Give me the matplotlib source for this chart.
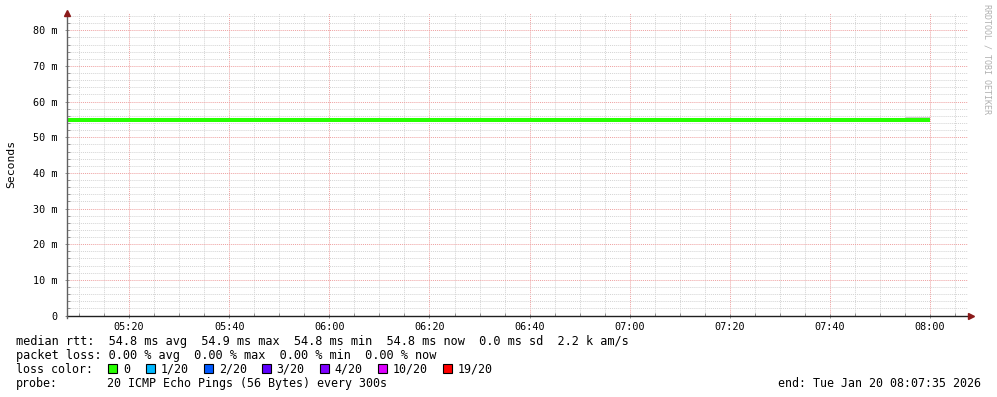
import numpy as np
import matplotlib
matplotlib.use("Agg")
import matplotlib.pyplot as plt
import matplotlib.dates as mdates
from matplotlib.patches import Rectangle
from matplotlib.ticker import MultipleLocator, FuncFormatter

W, H = 997, 397

# 5 minute steps, median rtt (ms) and top of the smoke (ms)
step_start = np.arange(np.datetime64("2026-01-20T05:05"), np.datetime64("2026-01-20T08:05"),
                       np.timedelta64(5, "m"))
median_ms = [54.8, 54.8, 54.8, 54.8, 54.8, 54.8, 54.8, 54.8, 54.8, 54.8, 54.8, 54.9,
             54.8, 54.8, 54.8, 54.8, 54.8, 54.8, 54.8, 54.8, 54.8, 54.8, 54.8, 54.8,
             54.8, 54.8, 54.9, 54.8, 54.8, 54.8, 54.8, 54.9, 54.8, 54.9, 54.8]
smoke_top_ms = [54.8] * 34 + [55.6]

x_start = np.datetime64("2026-01-20T05:07:35")
x_end = np.datetime64("2026-01-20T08:07:35")

stats_lines = [
    "median rtt:  54.8 ms avg  54.9 ms max  54.8 ms min  54.8 ms now  0.0 ms sd  2.2 k am/s",
    "packet loss: 0.00 % avg  0.00 % max  0.00 % min  0.00 % now",
]
loss_labels = ["0", "1/20", "2/20", "3/20", "4/20", "10/20", "19/20"]
loss_colors = ["#26ff00", "#00b8ff", "#0059ff", "#5e00ff", "#7e00ff", "#dd00ff", "#ff0000"]
probe_label = "probe:"
probe_text = "20 ICMP Echo Pings (56 Bytes) every 300s"
end_text = "end: Tue Jan 20 08:07:35 2026"

MONO = "DejaVu Sans Mono"
FS = 8.55
FS2 = 8.4


def px(x, y):
    return x / W, 1 - y / H


fig = plt.figure(figsize=(W / 100, H / 100), dpi=100, facecolor="white")
left, right, top, bottom = 67, 968, 12.5, 315.5
ax = fig.add_axes([left / W, 1 - bottom / H, (right - left) / W, (bottom - top) / H])

t = step_start.astype("datetime64[s]").astype(object)
med = np.array(median_ms + [median_ms[-1]])
smoke = np.array(smoke_top_ms + [smoke_top_ms[-1]])
ax.fill_between(t, med, smoke, step="post", color="#cccccc", lw=0, zorder=2)
ax.fill_between(t, med - 0.5, med + 0.5, step="post", color=loss_colors[0], lw=0, zorder=3)

ax.set_xlim(x_start.astype(object), x_end.astype(object))
ax.set_ylim(0, 85)

ax.xaxis.set_major_locator(mdates.MinuteLocator(byminute=[0, 20, 40]))
ax.xaxis.set_minor_locator(mdates.MinuteLocator(byminute=range(0, 60, 5)))
ax.xaxis.set_major_formatter(mdates.DateFormatter("%H:%M"))
ax.yaxis.set_major_locator(MultipleLocator(10))
ax.yaxis.set_minor_locator(MultipleLocator(2))
ax.yaxis.set_major_formatter(FuncFormatter(lambda v, p: "0" if v == 0 else f"{v:.0f} m"))

ax.grid(which="minor", color="#d4d4d4", linestyle=(0, (1, 1)), linewidth=0.7)
ax.grid(which="major", color="#eea0a0", linestyle=(0, (1, 1)), linewidth=0.7)
ax.set_axisbelow(True)

for s in ax.spines.values():
    s.set_visible(False)
ax.tick_params(which="both", labelsize=7.3, colors="#909090", labelcolor="black", width=0.7)
ax.tick_params(which="major", length=3, direction="inout")
ax.tick_params(which="minor", length=2, direction="in")
ax.tick_params(axis="y", pad=5)
ax.tick_params(axis="x", pad=3)
for lab in ax.get_xticklabels() + ax.get_yticklabels():
    lab.set_family(MONO)

# axes with arrows
ax.plot([0, 1.003], [0, 0], transform=ax.transAxes, color="#202020", lw=1, clip_on=False, zorder=5)
ax.plot([0, 0], [-0.007, 1.0], transform=ax.transAxes, color="#606060", lw=1, clip_on=False, zorder=5)
ax.plot([1.003], [0], transform=ax.transAxes, marker=">", ms=4, color="#8b1a1a", clip_on=False, zorder=6)
ax.plot([0], [1.0], transform=ax.transAxes, marker="^", ms=4, color="#8b1a1a", clip_on=False, zorder=6)

fig.text(*px(11, 164), "Seconds", rotation=90, ha="center", va="center", family=MONO, fontsize=8.2)
fig.text(*px(987, 4), "RRDTOOL / TOBI OETIKER", rotation=270, ha="center", va="top",
         family=MONO, fontsize=6, color="#b0b0b0")

# legend
fig.text(*px(16, 345), stats_lines[0], family=MONO, fontsize=FS, va="baseline")
fig.text(*px(16, 359), stats_lines[1], family=MONO, fontsize=FS, va="baseline")
fig.text(*px(16, 373), "loss color:", family=MONO, fontsize=FS2, va="baseline")
cx = 108
for lab, col in zip(loss_labels, loss_colors):
    x0, y0 = px(cx, 373)
    fig.patches.append(Rectangle((x0, y0), 9 / W, 9 / H, transform=fig.transFigure,
                                 facecolor=col, edgecolor="black", lw=0.8))
    fig.text(*px(cx + 15, 373), lab, family=MONO, fontsize=FS2, va="baseline")
    cx += 31 + len(lab) * 6.75
fig.text(*px(16, 387), probe_label, family=MONO, fontsize=FS2, va="baseline")
fig.text(*px(107, 387), probe_text, family=MONO, fontsize=FS2, va="baseline")
fig.text(*px(981, 387), end_text, family=MONO, fontsize=FS2, va="baseline", ha="right")

fig.savefig("out.png", dpi=100, facecolor="white")
